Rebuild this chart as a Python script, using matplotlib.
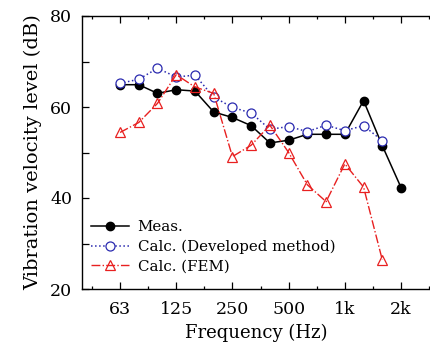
import numpy as np
import matplotlib
matplotlib.use("Agg")
import matplotlib.pyplot as plt
from matplotlib.ticker import FixedLocator, MultipleLocator

# 1/3-octave bands, 63 Hz .. 2 kHz
bands = ['63', '80', '100', '125', '160', '200', '250', '315', '400',
         '500', '630', '800', '1k', '1.25k', '1.6k', '2k']
tick_labels = ['63', '125', '250', '500', '1k', '2k']

meas = [64.9, 64.9, 63.0, 63.8, 63.5, 58.9, 57.7, 55.9, 52.1, 52.7,
        54.0, 54.0, 54.0, 61.4, 51.5, 42.3]
calc_dev = [65.2, 66.1, 68.5, 66.6, 67.0, 62.2, 59.9, 58.7, 55.1, 55.7,
            54.6, 56.0, 54.8, 55.9, 52.6, np.nan]
calc_fem = [54.4, 56.6, 60.8, 67.1, 64.4, 63.0, 49.1, 51.6, 56.0, 50.0,
            42.9, 39.2, 47.5, 42.4, 26.4, np.nan]

plt.rcParams['font.family'] = ['DejaVu Serif']

fig = plt.figure(figsize=(4.31, 3.43), dpi=100)
ax = fig.add_axes([82 / 431, 1 - 289 / 343, 1 - 82 / 431, (289 - 16) / 343])

x = np.arange(len(bands))
ax.plot(x, meas, '-', color='black', lw=1.1, marker='o', ms=6,
        mfc='black', mec='black', label='Meas.')
ax.plot(x, calc_dev, ':', color='#2b2bb0', lw=1.1, marker='o', ms=6.5,
        mfc='white', mec='#2b2bb0', mew=0.9, label='Calc. (Developed method)')
ax.plot(x, calc_fem, '-.', color='#e82020', lw=1.0, marker='^', ms=7.5,
        mfc='none', mec='#e82020', mew=0.9, label='Calc. (FEM)')

ax.set_xlim(-2.03, 16.6)
ax.set_ylim(20, 80)

major_x = [bands.index(t) for t in tick_labels]
ax.xaxis.set_major_locator(FixedLocator(major_x))
ax.set_xticklabels(tick_labels)
ax.xaxis.set_minor_locator(FixedLocator(np.arange(-1.5, 17, 3)))
ax.yaxis.set_major_locator(MultipleLocator(20))
ax.yaxis.set_minor_locator(MultipleLocator(10))

ax.tick_params(which='major', direction='in', length=5, width=0.9,
               top=True, labelsize=12.5)
ax.tick_params(axis='y', which='major', pad=7)
ax.tick_params(axis='x', which='major', pad=9)
ax.tick_params(which='minor', direction='in', length=5, width=0.9, top=True)
ax.tick_params(axis='x', which='minor', length=2)
ax.spines['right'].set_visible(False)
for s in ['left', 'top', 'bottom']:
    ax.spines[s].set_linewidth(1.0)

ax.set_xlabel('Frequency (Hz)', fontsize=13, labelpad=4)
ax.set_ylabel('Vibration velocity level (dB)', fontsize=14, labelpad=6)

ax.legend(loc='lower left', bbox_to_anchor=(0.0, 0.025), frameon=False,
          fontsize=10.8, handlelength=2.5, handletextpad=0.6,
          labelspacing=0.36, borderaxespad=0.2)

fig.savefig('out.png', dpi=100)
